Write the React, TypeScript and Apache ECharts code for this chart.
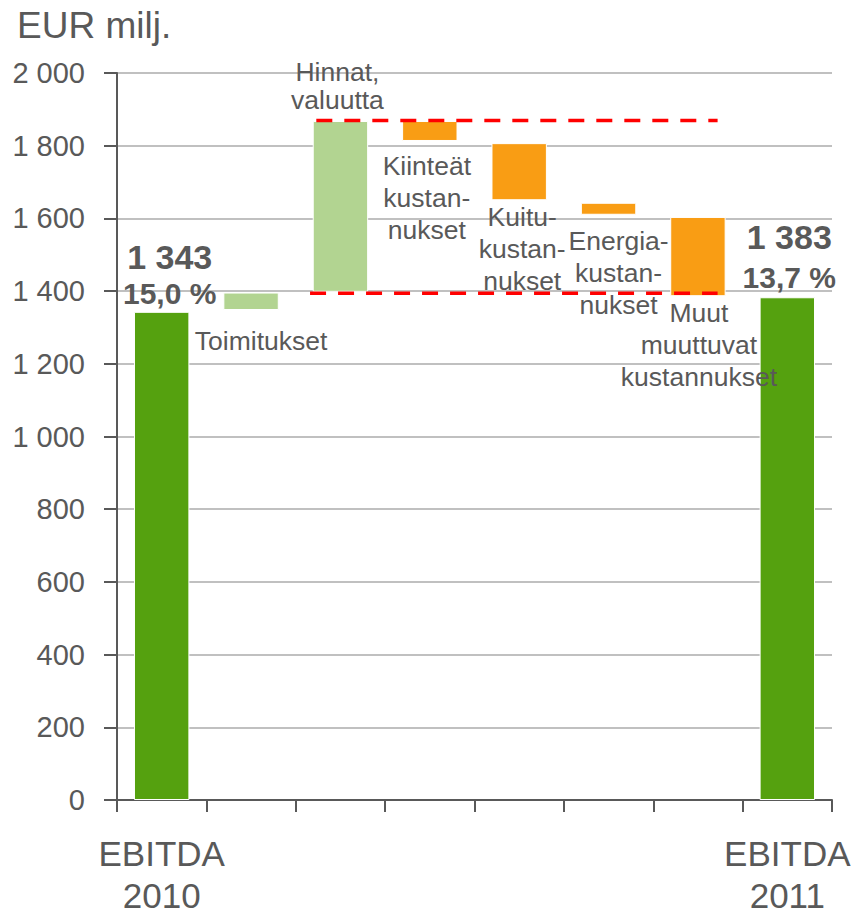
import React, { useEffect, useRef } from "react";
import * as echarts from "echarts";

// ---- data ----
const categories = [
  "EBITDA 2010",
  "Toimitukset",
  "Hinnat, valuutta",
  "Kiinteät kustannukset",
  "Kuitukustannukset",
  "Energiakustannukset",
  "Muut muuttuvat kustannukset",
  "EBITDA 2011",
];
const axisLabels = ["EBITDA\n2010", "", "", "", "", "", "", "EBITDA\n2011"];
const barLow = [0, 1348, 1398, 1813, 1650, 1610, 1386, 0];
const barHigh = [1343, 1396, 1868, 1868, 1807, 1643, 1604, 1383];
const kinds = ["total", "up", "up", "down", "down", "down", "down", "total"];
const annotations = [
  "",
  "Toimitukset",
  "Hinnat,\nvaluutta",
  "Kiinteät\nkustan-\nnukset",
  "Kuitu-\nkustan-\nnukset",
  "Energia-\nkustan-\nnukset",
  "Muut\nmuuttuvat\nkustannukset",
  "",
];
const ebitdaMargins = ["15,0 %", "", "", "", "", "", "", "13,7 %"];
const refTop = 1869;
const refBottom = 1394;
const yTicks = [0, 200, 400, 600, 800, 1000, 1200, 1400, 1600, 1800, 2000];

const FONT = "'Liberation Sans', Arial, Helvetica, sans-serif";
const TXT = "#595959";
const kindColor: Record<string, string> = {
  total: "#55a10f",
  up: "#b2d491",
  down: "#f99d14",
};

const fmt = (v: number) => String(v).replace(/\B(?=(\d{3})+(?!\d))/g, " ");

export default function App() {
  const ref = useRef<HTMLDivElement>(null);
  useEffect(() => {
    document.body.style.margin = "0";
    if (!ref.current) return;
    const chart = echarts.init(ref.current, null, { renderer: "svg" });

    const labelFor = (i: number): any => {
      const base = {
        show: true,
        color: TXT,
        fontFamily: FONT,
        fontSize: 26.5,
        lineHeight: 31,
        formatter: annotations[i],
      };
      switch (i) {
        case 0:
          return {
            show: true,
            position: "top",
            distance: 0,
            offset: [8, 0],
            fontFamily: FONT,
            formatter: `{a|${fmt(barHigh[i])}}\n{b|${ebitdaMargins[i]}}`,
            rich: {
              a: { fontFamily: FONT, fontSize: 34, fontWeight: "bold", color: TXT, lineHeight: 38 },
              b: { fontFamily: FONT, fontSize: 30, fontWeight: "bold", color: TXT, lineHeight: 36 },
            },
          };
        case 7:
          return {
            show: true,
            position: "top",
            distance: 2,
            offset: [2, 0],
            fontFamily: FONT,
            formatter: `{a|${fmt(barHigh[i])}}\n{b|${ebitdaMargins[i]}}`,
            rich: {
              a: { fontFamily: FONT, fontSize: 34, fontWeight: "bold", color: TXT, lineHeight: 44 },
              b: { fontFamily: FONT, fontSize: 30, fontWeight: "bold", color: TXT, lineHeight: 36 },
            },
          };
        case 1:
          return { ...base, position: "bottom", distance: 15, offset: [10, 0] };
        case 2:
          return { ...base, position: "top", distance: 7, offset: [-3, 0], lineHeight: 28 };
        case 3:
          return { ...base, position: "bottom", distance: 9, offset: [-3, 0], lineHeight: 32 };
        case 4:
          return { ...base, position: "bottom", distance: 1, offset: [3, 0], lineHeight: 32 };
        case 5:
          return { ...base, position: "bottom", distance: 10, offset: [10, 0], lineHeight: 32 };
        case 6:
          return { ...base, position: "bottom", distance: 1, offset: [1, 0], lineHeight: 32 };
      }
      return { show: false };
    };

    const visibleData = barHigh.map((h, i) => ({
      value: h - barLow[i],
      name: categories[i],
      itemStyle: { color: kindColor[kinds[i]] },
      label: labelFor(i),
    }));

    chart.setOption({
      animation: false,
      textStyle: { fontFamily: FONT },
      title: {
        text: "EUR milj.",
        left: 12,
        top: 2,
        textStyle: { fontFamily: FONT, fontSize: 37, fontWeight: "normal", color: TXT },
      },
      grid: {
        left: 117,
        right: 30,
        top: 73,
        bottom: 116,
        containLabel: false,
        outerBoundsMode: "none",
      },
      xAxis: [
        {
          type: "category",
          data: axisLabels,
          boundaryGap: true,
          axisLine: { lineStyle: { color: TXT, width: 2 } },
          axisTick: { show: true, length: 12, interval: 0, lineStyle: { color: TXT, width: 2 } },
          axisLabel: {
            interval: 0,
            color: TXT,
            fontFamily: FONT,
            fontSize: 35,
            lineHeight: 42,
            margin: 32,
          },
          splitLine: { show: false },
        },
        { type: "value", min: 0, max: 8, show: false },
      ],
      yAxis: {
        type: "value",
        min: yTicks[0],
        max: yTicks[yTicks.length - 1],
        interval: yTicks[1] - yTicks[0],
        axisLine: { show: true, lineStyle: { color: TXT, width: 2 } },
        axisTick: { show: true, length: 13, lineStyle: { color: TXT, width: 2 } },
        axisLabel: {
          color: TXT,
          fontFamily: FONT,
          fontSize: 29,
          margin: 32,
          formatter: (v: number) => fmt(v),
        },
        splitLine: { show: true, lineStyle: { color: "#c0c0c0", width: 2 } },
      },
      series: [
        {
          type: "bar",
          stack: "wf",
          barWidth: "62%",
          silent: true,
          itemStyle: { color: "transparent" },
          data: barLow,
        },
        {
          type: "bar",
          stack: "wf",
          barWidth: "62%",
          itemStyle: { borderColor: "#ffffff", borderWidth: 1 },
          data: visibleData,
          z: 3,
        },
        {
          type: "line",
          xAxisIndex: 1,
          symbol: "none",
          z: 5,
          lineStyle: { color: "#ff0000", width: 3.5, type: [16, 12] },
          data: [
            [2.23, refTop],
            [6.72, refTop],
          ],
        },
        {
          type: "line",
          xAxisIndex: 1,
          symbol: "none",
          z: 5,
          lineStyle: { color: "#ff0000", width: 3.5, type: [16, 12] },
          data: [
            [2.16, refBottom],
            [6.72, refBottom],
          ],
        },
      ],
    });
    return () => chart.dispose();
  }, []);
  return <div ref={ref} style={{ width: 862, height: 916 }} />;
}
